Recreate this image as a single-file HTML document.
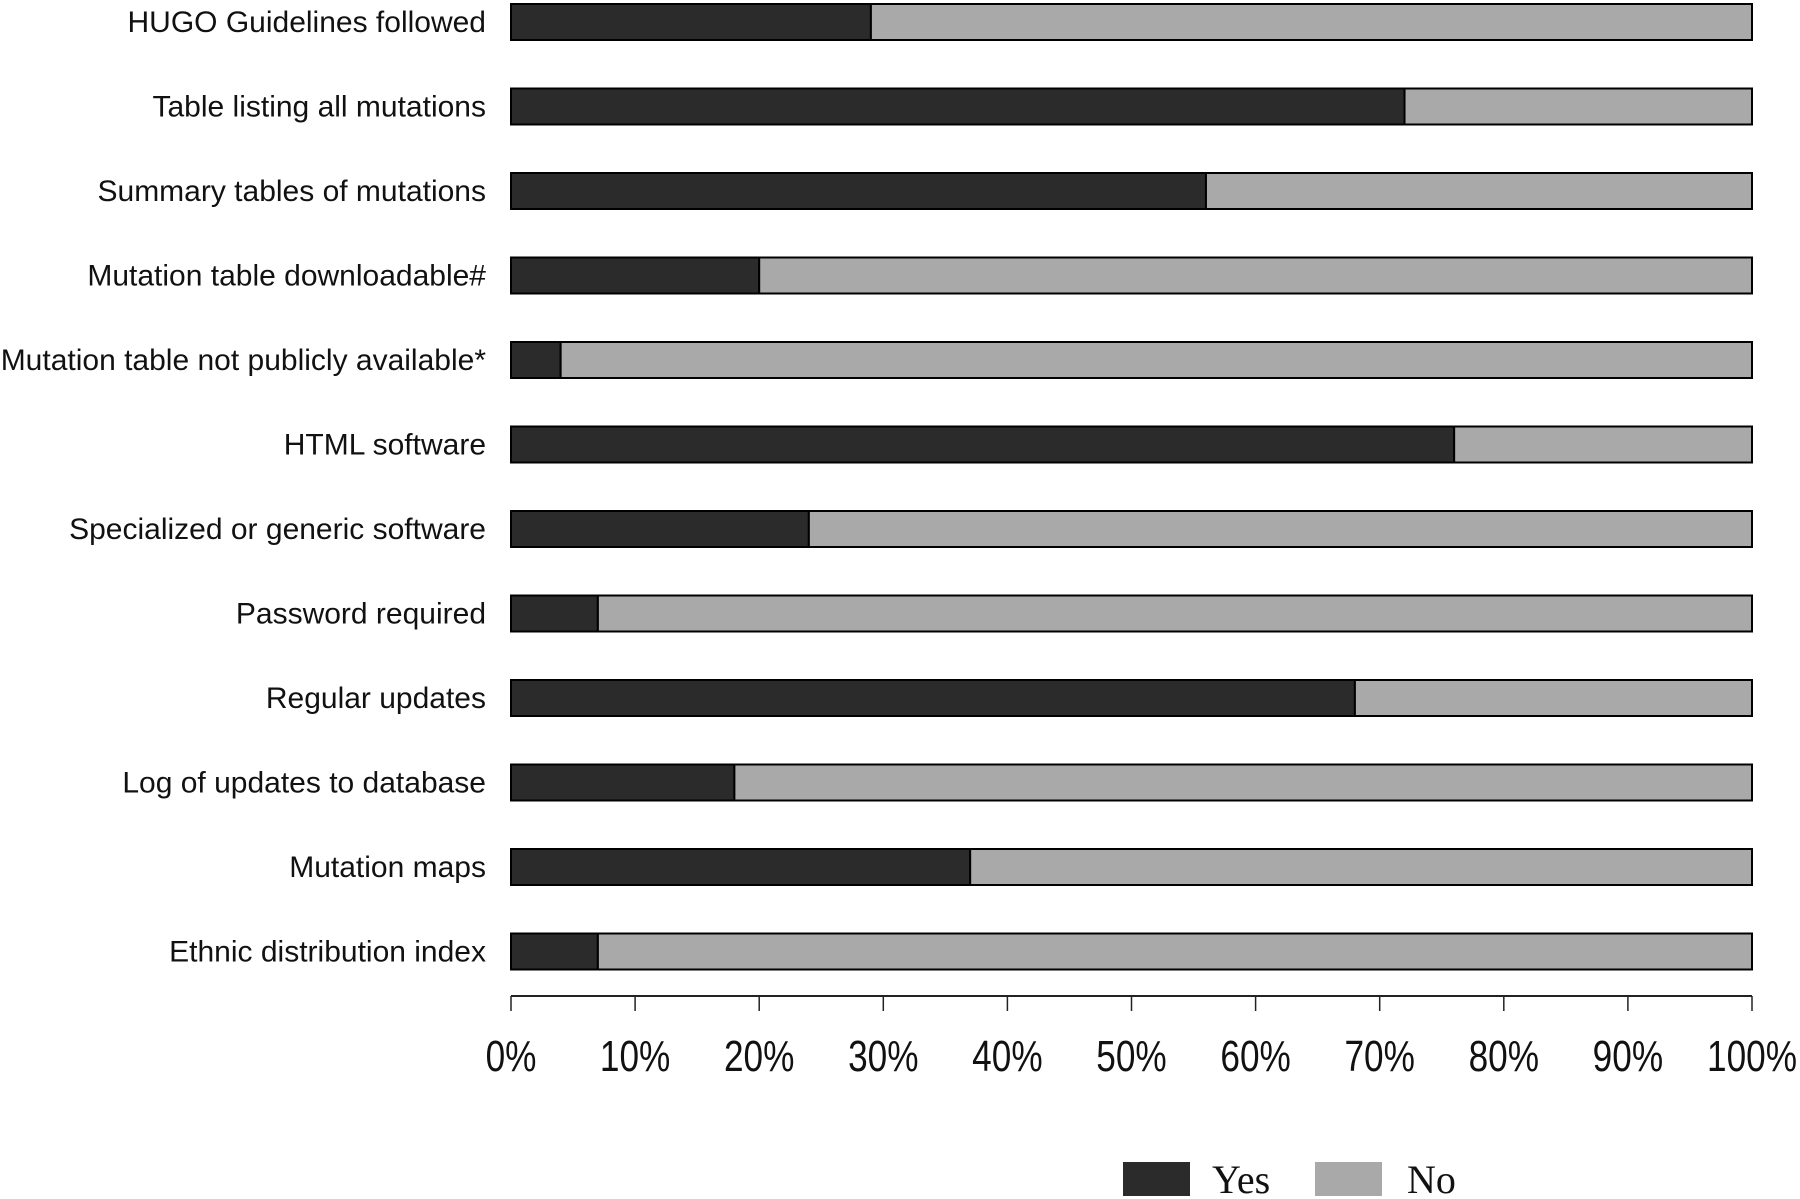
<!DOCTYPE html>
<html><head><meta charset="utf-8"><style>
body{margin:0;background:#fff;width:1800px;height:1199px;overflow:hidden}
svg{display:block}
.lbl{font-family:"Liberation Sans",sans-serif;font-size:30px;fill:#111}
.tick{font-family:"Liberation Sans",sans-serif;font-size:44px;fill:#111}
.leg{font-family:"Liberation Serif",serif;font-size:40px;fill:#111}
</style></head><body>
<svg id="chart" width="1800" height="1199"></svg>
<script>
const categories=["HUGO Guidelines followed","Table listing all mutations","Summary tables of mutations","Mutation table downloadable#","Mutation table not publicly available*","HTML software","Specialized or generic software","Password required","Regular updates","Log of updates to database","Mutation maps","Ethnic distribution index"];
const yesValues=[29,72,56,20,4,76,24,7,68,18,37,7];
const tickLabels=["0%","10%","20%","30%","40%","50%","60%","70%","80%","90%","100%"];
const tickValues=[0,10,20,30,40,50,60,70,80,90,100];
const NS="http://www.w3.org/2000/svg";
const svg=document.getElementById('chart');
const x0=511,x1=1752;
function xs(v){return x0+(x1-x0)*v/100;}
function ys(i){return 22+i*84.5;}
const bh=36;
function mk(t,a,p){const e=document.createElementNS(NS,t);for(const k in a)e.setAttribute(k,a[k]);(p||svg).appendChild(e);return e;}
categories.forEach((c,i)=>{
  const y=ys(i)-bh/2;
  const g=mk('g',{});
  
  
  const yes=mk('rect',{x:xs(0),y:y,width:xs(yesValues[i])-xs(0),height:bh,fill:'#2b2b2b',stroke:'#000','stroke-width':2},g);
  
  
  const no=mk('rect',{x:xs(yesValues[i]),y:y,width:xs(100)-xs(yesValues[i]),height:bh,fill:'#a9a9a9',stroke:'#000','stroke-width':2},g);
  
  
  const t=mk('text',{x:486,y:ys(i)+10,'text-anchor':'end',class:'lbl'});
  t.textContent=c;
  
  
});
const ax=mk('line',{x1:xs(0),y1:996,x2:xs(100),y2:996,stroke:'#222','stroke-width':2});


tickValues.forEach((v,i)=>{
  mk('line',{x1:xs(v),y1:996,x2:xs(v),y2:1011,stroke:'#222','stroke-width':1.5});
  const t=mk('text',{x:xs(v),y:1071,'text-anchor':'middle',class:'tick',transform:`translate(${xs(v)},0) scale(0.8,1) translate(${-xs(v)},0)`});
  t.textContent=tickLabels[i];
  
  
});
const lg=mk('g',{});


mk('rect',{x:1123,y:1162,width:67,height:34,fill:'#2b2b2b'},lg);
const ty=mk('text',{x:1212,y:1193,class:'leg'},lg);ty.textContent='Yes';


mk('rect',{x:1315,y:1162,width:67,height:34,fill:'#a9a9a9'},lg);
const tn=mk('text',{x:1407,y:1193,class:'leg'},lg);tn.textContent='No';


</script>
</body></html>
